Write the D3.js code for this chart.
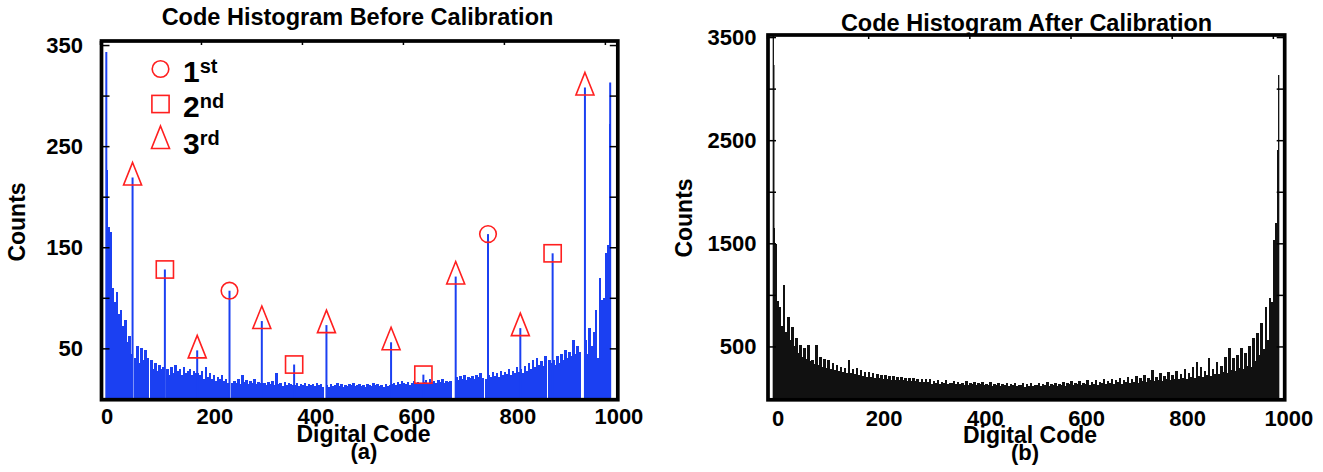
<!DOCTYPE html>
<html>
<head>
<meta charset="utf-8">
<script src="https://cdn.jsdelivr.net/npm/d3@7"></script>
<style>
  html, body { margin: 0; padding: 0; background: #fff; }
  svg { display: block; font-family: "Liberation Sans", Arial, sans-serif; font-weight: bold; }
</style>
</head>
<body>
<div id="chart"></div>
<script>
// ---- data -------------------------------------------------------------
// histogram counts, one value per 4-code bin (codes 0..1023)
const BIN = 4;

const beforeBins = [
  0, 0, 0, 226, 170, 165, 110, 96, 106, 84, 88, 72, 78, 56, 62, 44,
  0, 40, 52, 36, 50, 38, 48, 40, 0, 38, 30, 36, 28, 34, 30, 32,
  0, 30, 24, 32, 26, 34, 28, 30, 24, 32, 26, 28, 30, 24, 28, 26,
  26, 24, 28, 20, 32, 22, 26, 20, 24, 18, 22, 20, 24, 18, 20, 16,
  0, 16, 18, 16, 20, 15, 24, 17, 19, 15, 18, 16, 20, 15, 17, 16,
  16, 16, 14, 17, 15, 18, 14, 26, 15, 16, 13, 17, 14, 16, 15, 14,
  14, 16, 13, 15, 14, 16, 13, 15, 14, 15, 13, 16, 14, 15, 12, 0,
  14, 12, 15, 13, 14, 16, 13, 15, 12, 14, 13, 15, 14, 16, 13, 14,
  15, 13, 14, 12, 15, 14, 13, 16, 14, 15, 13, 14, 12, 15, 13, 14,
  15, 16, 14, 17, 15, 18, 16, 15, 17, 14, 16, 18, 15, 17, 16, 15,
  17, 19, 16, 20, 17, 18, 16, 19, 17, 20, 16, 18, 17, 18, 0, 0,
  22, 19, 23, 20, 24, 19, 22, 21, 23, 20, 24, 22, 26, 21, 0, 20,
  24, 22, 27, 23, 26, 22, 28, 24, 27, 25, 30, 24, 28, 26, 32, 27,
  30, 26, 33, 28, 36, 30, 38, 32, 40, 34, 37, 33, 42, 0, 38, 36,
  38, 34, 42, 36, 44, 38, 48, 40, 46, 42, 58, 44, 52, 46, 0, 0,
  58, 44, 70, 52, 66, 88, 40, 120, 98, 100, 144, 152, 272, 0, 0, 0
];

// single-code spikes [code, count]
const beforeSpikes = [
  [12, 343], [64, 219], [128, 128], [192, 48], [256, 107], [320, 77],
  [384, 34], [448, 73], [576, 56], [640, 24], [704, 121], [768, 163],
  [832, 70], [896, 144], [960, 308], [1010, 313]
];

// codes marked as 1st / 2nd / 3rd stage spikes
const firstCodes = [256, 768];
const secondCodes = [128, 384, 640, 896];
const thirdCodes = [64, 192, 320, 448, 576, 704, 832, 960];

const afterBins = [
  0, 0, 0, 1646, 1490, 940, 880, 700, 1096, 640, 789, 560, 692, 500, 580, 440,
  514, 400, 482, 380, 514, 360, 368, 330, 514, 320, 400, 300, 380, 290, 368, 280,
  340, 270, 320, 260, 300, 250, 290, 240, 368, 240, 280, 230, 290, 220, 270, 215,
  255, 205, 250, 200, 240, 195, 230, 190, 225, 185, 220, 180, 215, 178, 210, 175,
  205, 172, 200, 170, 195, 168, 192, 165, 190, 162, 185, 160, 188, 158, 180, 156,
  182, 140, 168, 150, 176, 138, 160, 146, 172, 136, 150, 142, 166, 132, 158, 140,
  150, 130, 164, 128, 142, 136, 158, 124, 148, 132, 160, 122, 140, 130, 152, 120,
  138, 124, 150, 116, 132, 126, 146, 114, 136, 122, 148, 112, 130, 124, 142, 110,
  134, 120, 148, 112, 128, 124, 144, 116, 132, 126, 152, 114, 136, 128, 150, 118,
  140, 130, 158, 118, 146, 132, 162, 124, 150, 136, 166, 122, 148, 138, 170, 126,
  156, 140, 176, 128, 160, 146, 184, 132, 164, 150, 188, 136, 170, 152, 192, 140,
  172, 156, 204, 146, 182, 160, 212, 150, 190, 166, 222, 158, 196, 170, 272, 162,
  206, 176, 240, 168, 214, 182, 252, 174, 222, 188, 262, 180, 230, 196, 282, 186,
  240, 204, 300, 196, 352, 214, 296, 206, 262, 226, 385, 218, 280, 236, 348, 228,
  310, 248, 400, 240, 482, 270, 392, 262, 420, 290, 481, 280, 440, 310, 500, 300,
  580, 360, 630, 420, 724, 480, 885, 560, 967, 930, 1532, 1697, 2405, 0, 0, 0
];

const afterSpikes = [[12, 3510], [13, 3230], [1011, 3133]];

const xTicks = [0, 200, 400, 600, 800, 1000];
const beforeYTicks = [50, 100, 150, 200, 250, 300, 350];
const beforeYLabels = [50, 150, 250, 350];
const afterYTicks = [500, 1000, 1500, 2000, 2500, 3000, 3500];
const afterYLabels = [500, 1500, 2500, 3500];

// ---- drawing -----------------------------------------------------------
const W = 1323, H = 472;
const RED = "#ff1f1f";

const svg = d3.select("#chart").append("svg")
  .attr("width", W).attr("height", H).attr("viewBox", `0 0 ${W} ${H}`);

// marker shapes
function trianglePath(w, h) {
  return `M0,${-2 * h / 3}L${w / 2},${h / 3}L${-w / 2},${h / 3}Z`;
}
function drawMarker(g, type, cx, cy) {
  if (type === "circle") {
    g.append("circle").attr("cx", cx).attr("cy", cy).attr("r", 8.3)
      .attr("fill", "none").attr("stroke", RED).attr("stroke-width", 1.6);
  } else if (type === "square") {
    g.append("rect").attr("x", cx - 8.6).attr("y", cy - 8.6)
      .attr("width", 17.2).attr("height", 17.2)
      .attr("fill", "none").attr("stroke", RED).attr("stroke-width", 1.6);
  } else {
    g.append("path").attr("d", trianglePath(18, 22.5))
      .attr("transform", `translate(${cx},${cy})`)
      .attr("fill", "none").attr("stroke", RED).attr("stroke-width", 1.6);
  }
}

function drawPanel(cfg) {
  const g = svg.append("g");
  const x = d3.scaleLinear().domain([0, 1024]).range(cfg.xRange);
  const y = d3.scaleLinear().domain([0, cfg.yMax]).range(cfg.yRange);
  const bw = x(BIN) - x(0);

  // histogram bars (crisp + slight overlap so no seams show between bins)
  g.append("g").attr("shape-rendering", "crispEdges")
    .selectAll("rect").data(cfg.bins).enter().append("rect")
    .attr("x", (d, i) => x(i * BIN) - 0.25)
    .attr("width", bw + 0.5)
    .attr("y", d => y(d))
    .attr("height", d => y(0) - y(d))
    .attr("fill", cfg.color);

  // single-code spikes
  g.append("g").selectAll("line").data(cfg.spikes).enter().append("line")
    .attr("x1", d => x(d[0] + 0.5)).attr("x2", d => x(d[0] + 0.5))
    .attr("y1", y(0)).attr("y2", d => y(d[1]))
    .attr("stroke", cfg.color).attr("stroke-width", cfg.spikeWidth);

  // stage markers on the spikes
  if (cfg.markers) {
    const lookup = new Map(cfg.spikes);
    const mg = g.append("g");
    cfg.markers.forEach(m => {
      m.codes.forEach(c => drawMarker(mg, m.type, x(c + 0.5), y(lookup.get(c))));
    });
  }

  const f = cfg.frame;

  // ticks (inward)
  const tickStyle = sel => {
    sel.select(".domain").remove();
    sel.selectAll(".tick line").attr("stroke", "#000").attr("stroke-width", 1.5);
    sel.selectAll("text").attr("font-size", "22px").attr("fill", "#000");
    sel.attr("font-family", null).attr("font-size", null);
  };
  g.append("g").attr("transform", `translate(${f.l},0)`)
    .call(d3.axisLeft(y).tickValues(cfg.yTicks).tickSize(-8).tickPadding(cfg.yLabelPad)
      .tickFormat(d => cfg.yLabels.includes(d) ? d : ""))
    .call(tickStyle);
  g.append("g").attr("transform", `translate(${f.r},0)`)
    .call(d3.axisRight(y).tickValues(cfg.yTicks).tickSize(-8).tickFormat(""))
    .call(tickStyle);
  g.append("g").attr("transform", `translate(0,${f.t})`)
    .call(d3.axisTop(x).tickValues(xTicks).tickSize(-4).tickFormat(""))
    .call(tickStyle);

  // frame
  g.append("rect")
    .attr("x", f.l).attr("y", f.t).attr("width", f.r - f.l).attr("height", f.b - f.t)
    .attr("fill", "none").attr("stroke", "#000").attr("stroke-width", 3.7);

  // x tick labels
  g.append("g").selectAll("text").data(xTicks).enter().append("text")
    .attr("x", d => x(d) + (d === 0 ? cfg.xLabelShift[0] : cfg.xLabelShift[1]))
    .attr("y", cfg.xLabelY)
    .attr("text-anchor", "middle").attr("font-size", "22px")
    .text(d => d);

  // titles and axis labels
  g.append("text").attr("x", cfg.title.x).attr("y", cfg.title.y)
    .attr("text-anchor", "middle").attr("font-size", "23.5px").text(cfg.title.text);
  g.append("text").attr("x", cfg.xTitle.x).attr("y", cfg.xTitle.y)
    .attr("text-anchor", "middle").attr("font-size", "23px").text("Digital Code");
  g.append("text").attr("x", cfg.tag.x).attr("y", cfg.tag.y)
    .attr("text-anchor", "middle").attr("font-size", "22px").text(cfg.tag.text);
  g.append("text")
    .attr("transform", `translate(${cfg.yTitle.x},${cfg.yTitle.y}) rotate(-90)`)
    .attr("text-anchor", "middle").attr("font-size", "23px").text("Counts");
}

// panel (a): before calibration
drawPanel({
  bins: beforeBins, spikes: beforeSpikes, color: "#1b40f2", spikeWidth: 2,
  xRange: [100, 617], yMax: 354, yRange: [398.9, 41],
  frame: { l: 101.5, r: 617.8, t: 41, b: 399.7 },
  yTicks: beforeYTicks, yLabels: beforeYLabels, yLabelPad: 18.5,
  xLabelY: 424, xLabelShift: [7, 14],
  title: { x: 357.5, y: 25, text: "Code Histogram Before Calibration" },
  xTitle: { x: 363.5, y: 442 },
  tag: { x: 364, y: 459, text: "(a)" },
  yTitle: { x: 25, y: 222 },
  markers: [
    { type: "circle", codes: firstCodes },
    { type: "square", codes: secondCodes },
    { type: "triangle", codes: thirdCodes }
  ]
});

// panel (b): after calibration
drawPanel({
  bins: afterBins, spikes: afterSpikes, color: "#111", spikeWidth: 1.3,
  xRange: [767, 1285], yMax: 3520, yRange: [398, 35],
  frame: { l: 768, r: 1284.7, t: 35, b: 399.8 },
  yTicks: afterYTicks, yLabels: afterYLabels, yLabelPad: 11.5,
  xLabelY: 426, xLabelShift: [11, 16],
  title: { x: 1026.5, y: 30.5, text: "Code Histogram After Calibration" },
  xTitle: { x: 1030, y: 443 },
  tag: { x: 1025, y: 460, text: "(b)" },
  yTitle: { x: 691.5, y: 218 }
});

// legend of panel (a)
const legend = svg.append("g");
const legendItems = [
  { type: "circle", n: "1", sup: "st", cy: 69 },
  { type: "square", n: "2", sup: "nd", cy: 104 },
  { type: "triangle", n: "3", sup: "rd", cy: 141 }
];
legendItems.forEach(it => {
  drawMarker(legend, it.type, 160.5, it.cy);
  const t = legend.append("text").attr("x", 183).attr("y", it.cy + 13)
    .attr("font-size", "30px");
  t.append("tspan").text(it.n);
  t.append("tspan").attr("dy", -9).attr("font-size", "20px").text(it.sup);
});
</script>
</body>
</html>
